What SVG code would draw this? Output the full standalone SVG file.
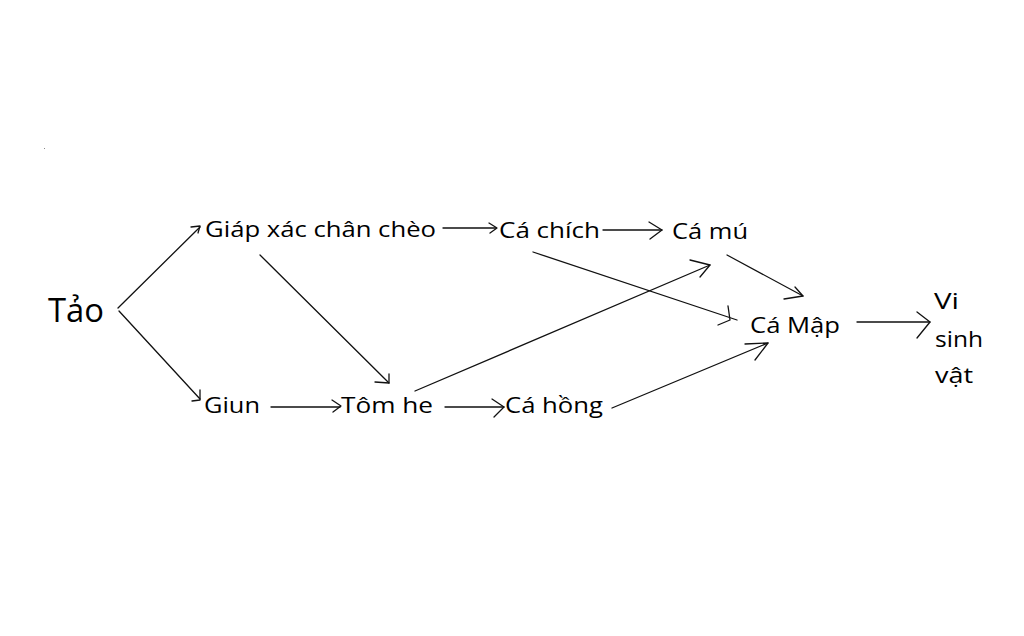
<svg xmlns="http://www.w3.org/2000/svg" width="1024" height="636" viewBox="0 0 1024 636">
<style>
  text { font-family: "Open Sans", "Noto Sans", sans-serif; font-size: 22px; fill: #000; }
  .big { font-size: 32px; }
  #connectors line, #connectors polyline { stroke: #111; stroke-width: 1.3; fill: none; stroke-linecap: round; stroke-linejoin: round; }
</style>
<rect width="1024" height="636" fill="#fff"/>
<rect x="44" y="148" width="1" height="1" fill="#888"/>
<g id="connectors">
  <line x1="118" y1="308" x2="200" y2="227"/>
  <polyline points="191,227 200,226 198,233"/>
  <line x1="119" y1="311" x2="200" y2="399"/>
  <polyline points="200,390 200,400 192,401"/>
  <line x1="260" y1="255" x2="389" y2="383"/>
  <polyline points="389,374 389,383 375,382"/>
  <line x1="271" y1="407" x2="340" y2="407"/>
  <polyline points="332,400 341,406 333,412"/>
  <line x1="445" y1="407" x2="504" y2="407"/>
  <polyline points="492,399 504,407 494,417"/>
  <line x1="443" y1="228" x2="496" y2="228"/>
  <polyline points="489,223 497,228 490,233"/>
  <line x1="603" y1="230" x2="662" y2="230"/>
  <polyline points="649,222 662,230 650,239"/>
  <line x1="533" y1="252" x2="737" y2="320"/>
  <polyline points="728,306 730,320 718,325"/>
  <line x1="415" y1="391" x2="710" y2="265"/>
  <polyline points="690,260 710,265 700,277"/>
  <line x1="727" y1="255" x2="803" y2="296"/>
  <polyline points="795,287 803,296 784,299"/>
  <line x1="612" y1="408" x2="768" y2="343"/>
  <polyline points="745,344 768,343 755,360"/>
  <line x1="857" y1="322" x2="930" y2="322"/>
  <polyline points="917,312 930,322 917,338"/>
</g>
<g id="tao"><text class="big" x="48" y="322" textLength="56" lengthAdjust="spacingAndGlyphs">Tảo</text></g>
<g id="giap-xac"><text x="205" y="237" textLength="231" lengthAdjust="spacingAndGlyphs">Giáp xác chân chèo</text></g>
<g id="ca-chich"><text x="499" y="238" textLength="101" lengthAdjust="spacingAndGlyphs">Cá chích</text></g>
<g id="ca-mu"><text x="672" y="239" textLength="76" lengthAdjust="spacingAndGlyphs">Cá mú</text></g>
<g id="ca-map"><text x="750" y="333" textLength="90" lengthAdjust="spacingAndGlyphs">Cá Mập</text></g>
<g id="vi-sinh-vat">
  <text x="934" y="309" textLength="25" lengthAdjust="spacingAndGlyphs">Vi</text>
  <text x="935" y="347" textLength="48" lengthAdjust="spacingAndGlyphs">sinh</text>
  <text x="935" y="383" textLength="38" lengthAdjust="spacingAndGlyphs">vật</text>
</g>
<g id="giun"><text x="204" y="413" textLength="56" lengthAdjust="spacingAndGlyphs">Giun</text></g>
<g id="tom-he"><text x="341" y="413" textLength="92" lengthAdjust="spacingAndGlyphs">Tôm he</text></g>
<g id="ca-hong"><text x="505" y="413" textLength="98" lengthAdjust="spacingAndGlyphs">Cá hồng</text></g>
</svg>
